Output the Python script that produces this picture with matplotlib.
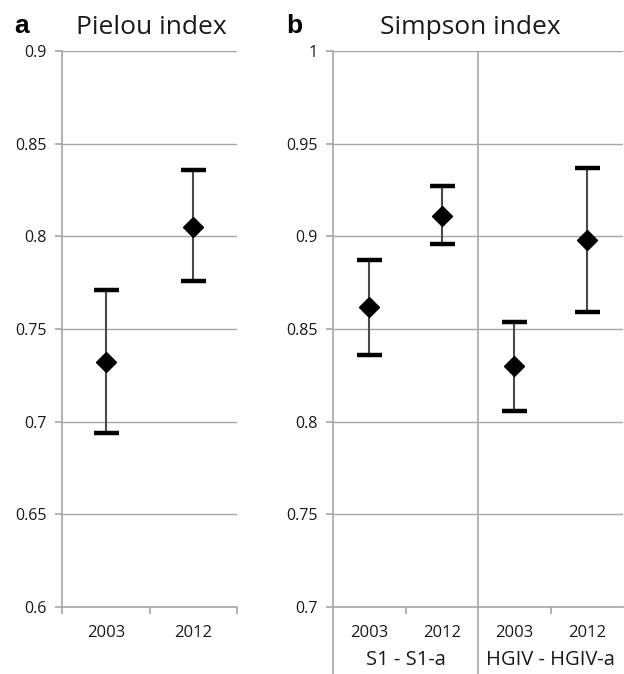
import matplotlib
matplotlib.use("Agg")
import matplotlib.pyplot as plt
from matplotlib.lines import Line2D

plt.rcParams['font.family'] = ['Open Sans', 'DejaVu Sans']

# Panel a: Pielou index
years = ["2003", "2012"]
pielou_mean = [0.732, 0.805]
pielou_upper = [0.771, 0.836]
pielou_lower = [0.694, 0.776]

# Panel b: Simpson index
groups = ["S1 - S1-a", "HGIV - HGIV-a"]
simpson_years = ["2003", "2012", "2003", "2012"]
simpson_mean = [0.862, 0.911, 0.830, 0.898]
simpson_upper = [0.887, 0.927, 0.854, 0.937]
simpson_lower = [0.836, 0.896, 0.806, 0.859]

pielou_ticks = [0.6, 0.65, 0.7, 0.75, 0.8, 0.85, 0.9]
pielou_ticklabels = ["0.6", "0.65", "0.7", "0.75", "0.8", "0.85", "0.9"]
simpson_ticks = [0.7, 0.75, 0.8, 0.85, 0.9, 0.95, 1.0]
simpson_ticklabels = ["0.7", "0.75", "0.8", "0.85", "0.9", "0.95", "1"]

W, H = 624, 674
fig = plt.figure(figsize=(W / 100, H / 100), dpi=100)
GRAY = "#a6a6a6"
TXT = "#1a1a1a"

def px(x0, y0, x1, y1):
    return [x0 / W, 1 - y1 / H, (x1 - x0) / W, (y1 - y0) / H]

axa = fig.add_axes(px(62, 51, 237, 607))
axb = fig.add_axes(px(333, 51, 623, 607))

def style(ax, ticks, labels):
    ax.set_ylim(ticks[0], ticks[-1])
    ax.set_yticks(ticks)
    ax.set_yticklabels(labels, fontsize=11.5, color=TXT)
    for t in ticks[1:]:
        ax.axhline(t, color=GRAY, lw=1.0, zorder=0)
    for s in ["top", "right"]:
        ax.spines[s].set_visible(False)
    for s in ["left", "bottom"]:
        ax.spines[s].set_color(GRAY)
        ax.spines[s].set_linewidth(1.2)
    ax.tick_params(axis="y", length=5, color=GRAY, width=1.2, pad=6)
    ax.tick_params(axis="x", which="major", length=0, pad=13, labelsize=12, labelcolor=TXT)
    ax.tick_params(axis="x", which="minor", length=5, color=GRAY, width=1.2, direction="out")

def draw_points(ax, xs, mean, lo, hi):
    yerr = [[m - l for m, l in zip(mean, lo)], [h - m for m, h in zip(mean, hi)]]
    eb = ax.errorbar(xs, mean, yerr=yerr, fmt="D", color="black", ms=10,
                     ecolor="#4a4a4a", elinewidth=1.5, capsize=9, capthick=3.2, zorder=3)
    for cap in eb[1]:
        cap.set_color("black")
        cap.set_markeredgecolor("black")
        cap.set_markerfacecolor("black")

# Panel a
xa = list(range(len(years)))
style(axa, pielou_ticks, pielou_ticklabels)
axa.set_xlim(-0.5, len(years) - 0.5)
axa.set_xticks(xa)
axa.set_xticklabels(years)
axa.set_xticks([-0.5, 0.5, 1.5], minor=True)
draw_points(axa, xa, pielou_mean, pielou_lower, pielou_upper)

# Panel b
xb = list(range(len(simpson_years)))
style(axb, simpson_ticks, simpson_ticklabels)
axb.set_xlim(-0.5, len(simpson_years) - 0.5)
axb.set_xticks(xb)
axb.set_xticklabels(simpson_years)
axb.set_xticks([0.5, 2.5], minor=True)
axb.axvline(1.5, color=GRAY, lw=1.2, zorder=0)
draw_points(axb, xb, simpson_mean, simpson_lower, simpson_upper)

# extended separators below panel b
for xd in [-0.5, 1.5]:
    xf = axb.transData.transform((xd, 0))[0] / W
    fig.add_artist(Line2D([xf, xf], [0, 1 - 607 / H], color=GRAY, lw=1.2))

# group labels
for i, g in enumerate(groups):
    axb.text(2 * i + 0.5, -0.095, g, transform=axb.get_xaxis_transform(),
             ha="center", va="center", fontsize=14.5, color=TXT)

# titles
fig.text(151 / W, 1 - 28 / H, "Pielou index", ha="center", va="center", fontsize=19, color=TXT)
fig.text(470 / W, 1 - 28 / H, "Simpson index", ha="center", va="center", fontsize=19, color=TXT)
fig.text(14 / W, 1 - 26 / H, "a", ha="left", va="center", fontsize=19, fontweight="bold", family="Liberation Sans")
fig.text(286 / W, 1 - 26 / H, "b", ha="left", va="center", fontsize=19, fontweight="bold", family="Liberation Sans")

fig.savefig("out.png", dpi=100)
